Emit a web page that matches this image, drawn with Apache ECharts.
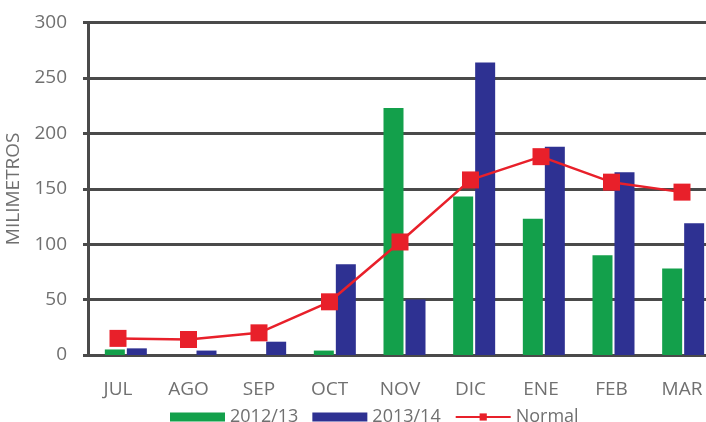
<!DOCTYPE html>
<html>
<head>
<meta charset="utf-8">
<script src="https://cdn.jsdelivr.net/npm/echarts@6/dist/echarts.min.js"></script>
<style>
  html, body { margin: 0; padding: 0; background: #fff; }
  #chart { width: 706px; height: 422px; }
</style>
</head>
<body>
<div id="chart"></div>
<script>
const months = ['JUL', 'AGO', 'SEP', 'OCT', 'NOV', 'DIC', 'ENE', 'FEB', 'MAR']
const season1213 = [5, 0, 0, 4, 223, 143, 123, 90, 78]
const season1314 = [6, 4, 12, 82, 50, 264, 188, 165, 119]
const normal = [15, 14, 20, 48, 102, 158, 179, 156, 147]
const yTicks = { min: 0, max: 300, interval: 50 }

const textColor = '#707070'
const lineColor = '#4a4a4a'
const plotTop = 22.6
const plotBottom = 67

const chart = echarts.init(document.getElementById('chart'))
chart.setOption({
  backgroundColor: '#fff',
  textStyle: { fontFamily: 'Open Sans' },
  animation: false,
  // grid 0: bars, grid 1: the Normal line + month labels (sits a bit left),
  // grid 2: the visible value axis with its grid lines
  grid: [
    { left: 91, width: 627, top: plotTop, bottom: plotBottom, outerBoundsMode: 'none' },
    { left: 82.75, width: 634.5, top: plotTop, bottom: plotBottom, outerBoundsMode: 'none' },
    { left: 88, width: 630, top: plotTop, bottom: plotBottom, outerBoundsMode: 'none' }
  ],
  legend: {
    top: 403,
    left: 165,
    itemWidth: 55,
    itemHeight: 9,
    itemGap: 14,
    textStyle: { color: textColor, fontSize: 18, fontFamily: 'Open Sans' },
    data: [
      { name: '2012/13', icon: 'rect' },
      { name: '2013/14', icon: 'rect' },
      { name: 'Normal' }
    ]
  },
  xAxis: [{
    type: 'category',
    gridIndex: 0,
    data: months,
    show: false
  }, {
    type: 'category',
    gridIndex: 1,
    data: months,
    axisLine: { show: false },
    axisTick: { show: false },
    axisLabel: { color: textColor, fontSize: 19, margin: 25, interval: 0 }
  }, {
    type: 'category',
    gridIndex: 2,
    data: months,
    show: false
  }],
  yAxis: [{
    type: 'value',
    gridIndex: 0,
    min: yTicks.min,
    max: yTicks.max,
    interval: yTicks.interval,
    show: false,
    splitLine: { show: false }
  }, {
    type: 'value',
    gridIndex: 1,
    min: yTicks.min,
    max: yTicks.max,
    interval: yTicks.interval,
    show: false,
    splitLine: { show: false }
  }, {
    type: 'value',
    gridIndex: 2,
    min: yTicks.min,
    max: yTicks.max,
    interval: yTicks.interval,
    name: 'MILIMETROS',
    nameLocation: 'middle',
    nameGap: 59,
    nameTextStyle: { color: textColor, fontSize: 19 },
    axisLine: { show: true, lineStyle: { color: lineColor, width: 3 } },
    axisTick: { show: true, length: 5, lineStyle: { color: lineColor, width: 3 } },
    axisLabel: { color: textColor, fontSize: 19, margin: 21 },
    splitLine: { lineStyle: { color: lineColor, width: 3 } }
  }],
  series: [{
    name: '2012/13',
    type: 'bar',
    xAxisIndex: 0,
    yAxisIndex: 0,
    data: season1213,
    barWidth: 20,
    barGap: '10%',
    itemStyle: { color: '#13a04b' }
  }, {
    name: '2013/14',
    type: 'bar',
    xAxisIndex: 0,
    yAxisIndex: 0,
    data: season1314,
    barWidth: 20,
    barGap: '10%',
    itemStyle: { color: '#2e3192' }
  }, {
    name: 'Normal',
    type: 'line',
    xAxisIndex: 1,
    yAxisIndex: 1,
    data: normal,
    z: 10,
    symbol: 'rect',
    symbolSize: 17,
    lineStyle: { color: '#e8202a', width: 2.5 },
    itemStyle: { color: '#e8202a' }
  }]
})
</script>
</body>
</html>
